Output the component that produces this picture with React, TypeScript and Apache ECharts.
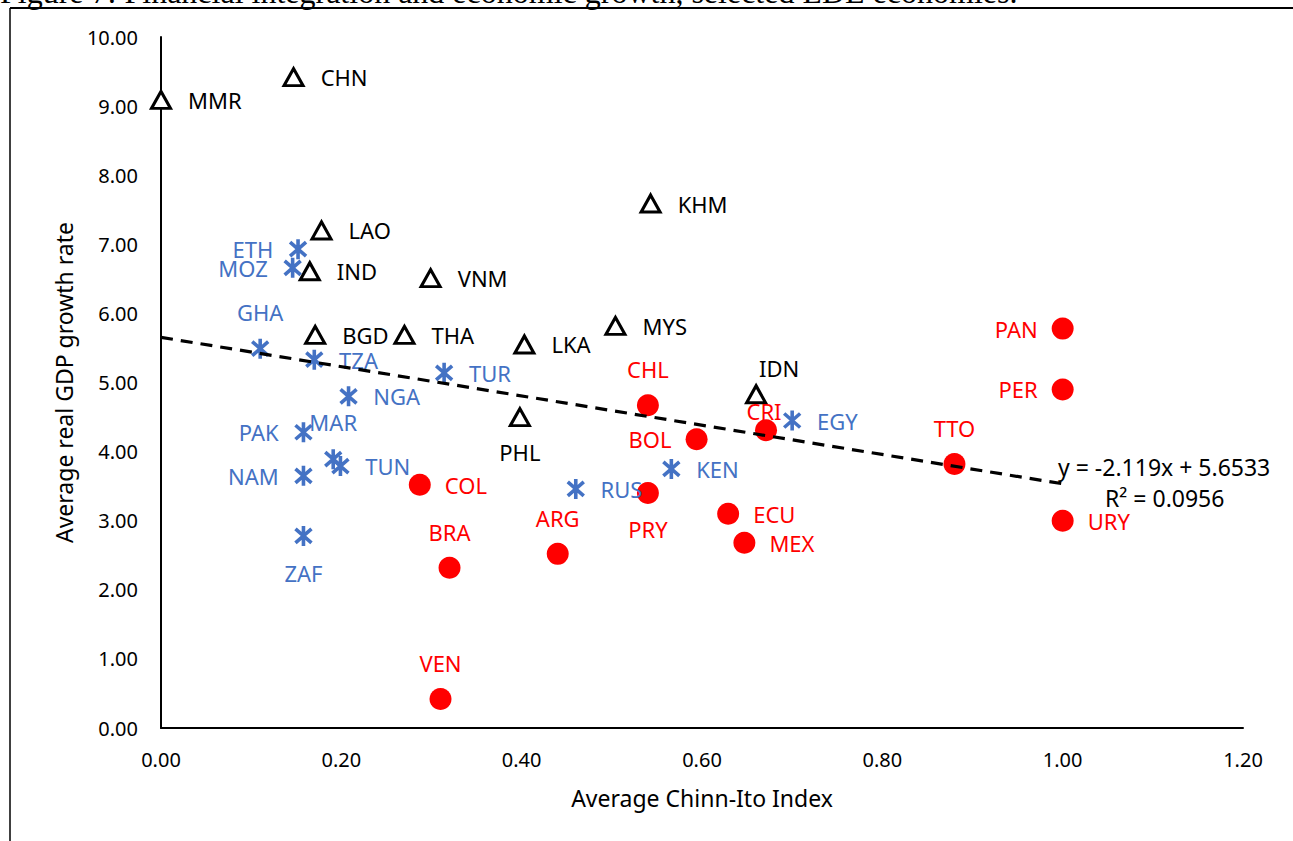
import React, { useEffect, useRef } from "react";
import * as echarts from "echarts";

// Asia (open triangles)
const asiaNames = ["MMR", "CHN", "KHM", "LAO", "IND", "VNM", "BGD", "THA", "MYS", "LKA", "IDN", "PHL"];
const asiaX = [0.0, 0.147, 0.543, 0.178, 0.165, 0.299, 0.171, 0.27, 0.504, 0.403, 0.66, 0.398];
const asiaY = [9.09, 9.42, 7.59, 7.2, 6.61, 6.51, 5.69, 5.69, 5.82, 5.55, 4.83, 4.5];
const asiaPos = ["right", "right", "right", "right", "right", "right", "right", "right", "right", "right", "topRight", "bottom"];

// Africa / other (asterisks)
const afrNames = ["ETH", "MOZ", "GHA", "TZA", "TUR", "NGA", "PAK", "MAR", "TUN", "NAM", "ZAF", "RUS", "KEN", "EGY"];
const afrX = [0.152, 0.146, 0.11, 0.17, 0.314, 0.208, 0.158, 0.191, 0.199, 0.158, 0.158, 0.46, 0.566, 0.7];
const afrY = [6.93, 6.66, 5.49, 5.33, 5.14, 4.8, 4.28, 3.89, 3.79, 3.65, 2.78, 3.46, 3.75, 4.45];
const afrPos = ["left", "left", "top", "right", "right", "right", "left", "top", "right", "left", "bottom", "right", "right", "right"];

// Latin America (filled circles)
const latNames = ["PAN", "PER", "TTO", "URY", "CHL", "BOL", "CRI", "PRY", "ECU", "MEX", "COL", "BRA", "ARG", "VEN"];
const latX = [1.0, 1.0, 0.88, 1.0, 0.54, 0.594, 0.671, 0.54, 0.629, 0.647, 0.287, 0.32, 0.44, 0.31];
const latY = [5.78, 4.9, 3.82, 3.0, 4.67, 4.18, 4.31, 3.4, 3.1, 2.68, 3.52, 2.32, 2.52, 0.42];
const latPos = ["left", "left", "top", "right", "top", "left", "topTight", "bottom", "right", "right", "right", "top", "top", "top"];

// Trend line: y = -2.119x + 5.6533
const trendSlope = -2.119;
const trendIntercept = 5.6533;
const trendXs = [0, 1.0];

const xTicks = { min: 0, max: 1.2, interval: 0.2 };
const yTicks = { min: 0, max: 10, interval: 1 };

const FONT = "'Noto Sans', sans-serif";

function labelFor(pos: string, side: number) {
  if (pos === "topRight") return { position: "top", distance: 5, offset: [23, 0] };
  if (pos === "topTight") return { position: "top", distance: -3, offset: [-2, 0] };
  if (pos === "top" || pos === "bottom") return { position: pos, distance: 14 };
  return { position: pos, distance: 25 - side };
}

function build(names: string[], xs: number[], ys: number[], pos: string[], half: number) {
  return names.map((n, i) => ({
    name: n,
    value: [xs[i], ys[i]],
    label: labelFor(pos[i], half),
  }));
}

export default function App() {
  const ref = useRef<HTMLDivElement>(null);
  useEffect(() => {
    if (!ref.current) return;
    const chart = echarts.init(ref.current, null, { renderer: "svg" });
    const labelBase = { show: true, formatter: "{b}", fontFamily: FONT, fontSize: 22 };
    chart.setOption({
      animation: false,
      backgroundColor: "#fff",
      grid: { left: 161, right: 50, top: 37, bottom: 113, containLabel: false },
      xAxis: {
        type: "value",
        min: xTicks.min,
        max: xTicks.max,
        interval: xTicks.interval,
        name: "Average Chinn-Ito Index",
        nameLocation: "middle",
        nameGap: 58,
        nameTextStyle: { fontFamily: FONT, fontSize: 23, color: "#000" },
        axisLine: { lineStyle: { color: "#000", width: 2 } },
        axisTick: { show: false },
        splitLine: { show: false },
        axisLabel: {
          fontFamily: FONT,
          fontSize: 20,
          color: "#000",
          margin: 21,
          formatter: (v: number) => v.toFixed(2),
        },
      },
      yAxis: {
        type: "value",
        min: yTicks.min,
        max: yTicks.max,
        interval: yTicks.interval,
        name: "Average real GDP growth rate",
        nameLocation: "middle",
        nameGap: 86,
        nameTextStyle: { fontFamily: FONT, fontSize: 23, color: "#000" },
        axisLine: { show: true, lineStyle: { color: "#000", width: 2 } },
        axisTick: { show: false },
        splitLine: { show: false },
        axisLabel: {
          fontFamily: FONT,
          fontSize: 20,
          color: "#000",
          margin: 23,
          formatter: (v: number) => v.toFixed(2),
        },
      },
      series: [
        {
          type: "scatter",
          name: "Asia",
          symbol: "triangle",
          symbolSize: [19, 17],
          itemStyle: { color: "#fff", borderColor: "#000", borderWidth: 3, opacity: 1 },
          label: { ...labelBase, color: "#000" },
          data: build(asiaNames, asiaX, asiaY, asiaPos, 9),
          z: 3,
        },
        {
          type: "scatter",
          name: "Africa",
          symbol: "path://M10,0 L10,20 M2,3 L18,17 M2,17 L18,3",
          symbolSize: 20,
          symbolKeepAspect: true,
          itemStyle: { color: "rgba(0,0,0,0)", borderColor: "#4472C4", borderWidth: 3.6, opacity: 1 },
          label: { ...labelBase, color: "#4472C4" },
          data: build(afrNames, afrX, afrY, afrPos, 10),
          z: 3,
        },
        {
          type: "scatter",
          name: "LatAm",
          symbol: "circle",
          symbolSize: 22,
          itemStyle: { color: "#FF0000", opacity: 1 },
          label: { ...labelBase, color: "#FF0000" },
          data: build(latNames, latX, latY, latPos, 11),
          z: 3,
        },
        {
          type: "line",
          name: "Trend",
          data: trendXs.map((x) => [x, trendSlope * x + trendIntercept]),
          symbol: "none",
          lineStyle: { color: "#000", width: 3.2, type: [12, 8] },
          z: 5,
          silent: true,
        },
      ],
      graphic: [
        {
          type: "text",
          left: 0,
          top: -24,
          style: {
            text: "Figure 7: Financial integration and economic growth, selected LDE economies.",
            fontFamily: "'Liberation Serif', serif",
            fontSize: 32,
            fill: "#000",
          },
        },
        { type: "line", shape: { x1: 10, y1: 8, x2: 1293, y2: 8 }, style: { stroke: "#000", lineWidth: 2 } },
        { type: "line", shape: { x1: 10, y1: 8, x2: 10, y2: 841 }, style: { stroke: "#000", lineWidth: 1.5 } },
        {
          type: "text",
          x: 1058,
          y: 467,
          style: {
            text: "y = -2.119x + 5.6533",
            fontFamily: FONT,
            fontSize: 23,
            fill: "#000",
            verticalAlign: "middle",
          },
          z: 10,
        },
        {
          type: "text",
          x: 1105,
          y: 498,
          style: {
            text: "R² = 0.0956",
            fontFamily: FONT,
            fontSize: 23,
            fill: "#000",
            verticalAlign: "middle",
          },
          z: 10,
        },
      ],
    });
    return () => chart.dispose();
  }, []);
  return (
    <div
      ref={ref}
      style={{ position: "fixed", left: 0, top: 0, width: 1293, height: 841, background: "#fff" }}
    />
  );
}
